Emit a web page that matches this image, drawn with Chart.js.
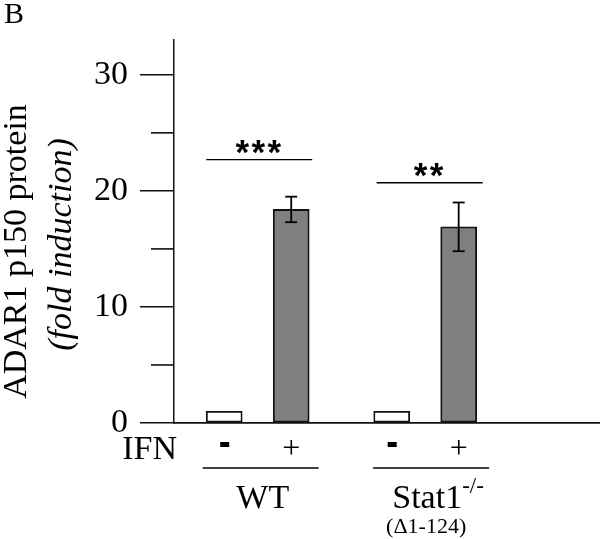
<!DOCTYPE html>
<html>
<head>
<meta charset="utf-8">
<script src="https://cdn.jsdelivr.net/npm/chart.js@4.4.1/dist/chart.umd.min.js"></script>
<style>
  html, body { margin: 0; padding: 0; background: #fff; }
  #wrap { width: 600px; height: 539px; }
</style>
</head>
<body>
<div id="wrap"><canvas id="chart" width="600" height="539"></canvas></div>
<script>
// data
const BAR_X = [1.5, 3.5, 6.5, 8.5];        // slot of each bar on the x axis
const IFN = ["-", "+", "-", "+"];
const FOLD = [1, 18.4, 1, 16.9];           // fold induction
const SEM = [0, 1.1, 0, 2.1];
const GROUPS = ["WT", "Stat1"];
const GROUP_BARS = [[0, 1], [2, 3]];
const SIG = ["***", "**"];
const SIG_Y = [22.7, 20.7];
const Y_TICKS = [0, 10, 20, 30];
const Y_MINOR = [5, 15, 25];
const Y_MAX = 33;
const X_MAX = 12.72;

const SERIF = "'Liberation Serif', 'Times New Roman', serif";

function line(ctx, x1, y1, x2, y2, w) {
  ctx.beginPath();
  ctx.lineWidth = w || 1.5;
  ctx.moveTo(x1, y1);
  ctx.lineTo(x2, y2);
  ctx.stroke();
}

// error bars, minor ticks, significance, labels
const decor = {
  id: "decor",
  afterDatasetsDraw(chart) {
    const ctx = chart.ctx;
    const xs = chart.scales.x, ys = chart.scales.y;
    const area = chart.chartArea;
    ctx.save();
    ctx.strokeStyle = "#000";
    ctx.fillStyle = "#000";

    // minor ticks on y
    Y_MINOR.forEach(v => {
      const y = ys.getPixelForValue(v);
      line(ctx, area.left - 23, y, area.left, y);
    });

    // error bars
    FOLD.forEach((v, i) => {
      if (!SEM[i]) return;
      const x = xs.getPixelForValue(BAR_X[i]);
      const hi = ys.getPixelForValue(v + SEM[i]);
      const lo = ys.getPixelForValue(v - SEM[i]);
      line(ctx, x, hi, x, lo, 1.8);
      line(ctx, x - 6, hi, x + 6, hi, 1.8);
      line(ctx, x - 6, lo, x + 6, lo, 1.8);
    });

    // significance bars, stars spaced one by one
    GROUP_BARS.forEach((g, k) => {
      const x1 = xs.getPixelForValue(BAR_X[g[0]]) - 18 + k * 3;
      const x2 = xs.getPixelForValue(BAR_X[g[1]]) + 21 + k * 3;
      const y = ys.getPixelForValue(SIG_Y[k]);
      line(ctx, x1, y, x2, y, 1.3);
      ctx.font = "bold 35px 'Liberation Sans', Arial, sans-serif";
      ctx.textAlign = "center";
      ctx.textBaseline = "alphabetic";
      const n = SIG[k].length, mid = (x1 + x2) / 2 - 1;
      for (let j = 0; j < n; j++) {
        ctx.fillText("*", mid + (j - (n - 1) / 2) * 16, y + 4);
      }
    });

    // IFN row
    const b = area.bottom;
    ctx.font = "34px " + SERIF;
    ctx.textAlign = "right";
    ctx.fillText("IFN", area.left + 3, b + 36);
    ctx.textAlign = "center";
    IFN.forEach((s, i) => {
      const x = xs.getPixelForValue(BAR_X[i]);
      if (s === "-") {
        ctx.fillRect(x - 4, b + 19, 9, 5);
      } else {
        ctx.font = "32px " + SERIF;
        ctx.fillText(s, x, b + 35);
      }
    });

    // group lines + names
    GROUP_BARS.forEach((g, k) => {
      const c = (xs.getPixelForValue(BAR_X[g[0]]) + xs.getPixelForValue(BAR_X[g[1]])) / 2 + 3 + k * 3;
      line(ctx, c - 58, b + 45, c + 58, b + 45, 1.5);
      ctx.font = "34px " + SERIF;
      ctx.textAlign = "center";
      const tx = k === 1 ? c - 4 : c + 2;
      ctx.fillText(GROUPS[k], tx, b + 85);
      if (k === 1) {
        const w = ctx.measureText(GROUPS[k]).width;
        ctx.font = "23px " + SERIF;
        ctx.textAlign = "left";
        ctx.fillText("-/-", tx + w / 2, b + 70);
        ctx.font = "22px " + SERIF;
        ctx.textAlign = "center";
        ctx.fillText("(\u03941-124)", tx - 1, b + 110);
      }
    });

    // y axis title, two lines
    const cy = (area.top + area.bottom) / 2 + 16;
    ctx.textAlign = "center";
    ctx.save();
    ctx.translate(26, cy + 4);
    ctx.rotate(-Math.PI / 2);
    ctx.font = "34px " + SERIF;
    ctx.fillText("ADAR1 p150 protein", 0, 0);
    ctx.restore();
    ctx.save();
    ctx.translate(71, cy - 3);
    ctx.rotate(-Math.PI / 2);
    ctx.font = "italic 34px " + SERIF;
    ctx.fillText("(fold induction)", 0, 0);
    ctx.restore();

    // panel letter
    ctx.font = "30px " + SERIF;
    ctx.textAlign = "left";
    ctx.fillText("B", 4, 23);
    ctx.restore();
  }
};

new Chart(document.getElementById("chart"), {
  type: "bar",
  data: {
    datasets: [{
      data: BAR_X.map((x, i) => ({ x: x, y: FOLD[i] })),
      backgroundColor: IFN.map(s => s === "+" ? "#7f7f7f" : "#ffffff"),
      borderColor: "#111",
      borderWidth: 1.8,
      barThickness: 36,
      borderSkipped: false
    }]
  },
  options: {
    responsive: false,
    animation: false,
    layout: { padding: { top: 40, bottom: 116, left: 0, right: 0 } },
    plugins: { legend: { display: false }, tooltip: { enabled: false } },
    scales: {
      x: {
        type: "linear",
        offset: false,
        min: 0,
        max: X_MAX,
        grid: { display: false, drawTicks: false },
        ticks: { display: false },
        border: { display: true, color: "#111", width: 1.8 },
        afterFit: s => { s.height = 0; }
      },
      y: {
        min: 0,
        max: Y_MAX,
        afterBuildTicks: s => { s.ticks = Y_TICKS.map(v => ({ value: v })); },
        grid: { drawOnChartArea: false, tickLength: 34, color: "#111", lineWidth: 1.5 },
        border: { display: true, color: "#111", width: 1.5 },
        ticks: {
          color: "#000",
          padding: 12,
          font: { family: SERIF, size: 34 }
        },
        afterFit: s => { s.width = 174; }
      }
    }
  },
  plugins: [decor]
});
</script>
</body>
</html>
